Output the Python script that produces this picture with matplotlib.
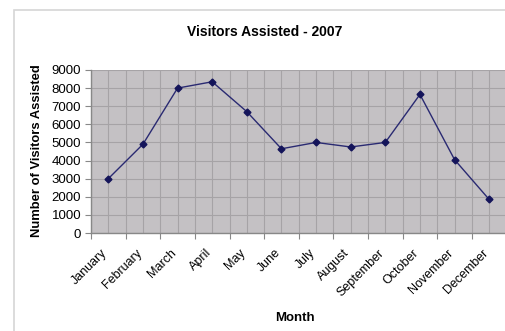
import matplotlib
matplotlib.use("Agg")
import matplotlib.pyplot as plt
import matplotlib.transforms as mtransforms
from matplotlib.patches import Rectangle
import numpy as np

months = ["January", "February", "March", "April", "May", "June", "July",
          "August", "September", "October", "November", "December"]
visitors = [3000, 4900, 8000, 8350, 6700, 4650, 5000, 4750, 5000, 7650, 4050, 1850]
y_ticks = [0, 1000, 2000, 3000, 4000, 5000, 6000, 7000, 8000, 9000]

plt.rcParams['font.family'] = ['Liberation Sans', 'DejaVu Sans']

W, H = 505, 331
fig = plt.figure(figsize=(W / 100, H / 100), dpi=100)
fig.patch.set_facecolor('white')

# outer chart frame (partially cropped)
fig.patches.append(Rectangle((14 / W, -0.1), 1.2, 1 - 10 / H + 0.1, transform=fig.transFigure,
                             fill=False, edgecolor='#d6d6d6', linewidth=1.2))

left, right, top, bottom = 91, 506.5, 70, 233
ax = fig.add_axes([left / W, 1 - bottom / H, (right - left) / W, (bottom - top) / H])
ax.set_facecolor('#c4c1c4')

x = np.arange(len(months))
ax.set_xlim(-0.5, len(months) - 0.5)
ax.set_ylim(0, 9000)

# gridlines
for b in np.arange(-0.5, len(months), 0.5):
    ax.axvline(b, color='#a6a3a6', linewidth=0.8, zorder=1)
for t in y_ticks:
    ax.axhline(t, color='#a6a3a6', linewidth=0.8, zorder=1)

ax.plot(x, visitors, color='#2a2a72', linewidth=1.0, marker='D', markersize=3.5,
        markerfacecolor='#14145a', markeredgecolor='#14145a', zorder=3)

ax.set_yticks(y_ticks)
ax.set_yticklabels([str(t) for t in y_ticks], fontsize=9.5)
ax.set_xticks(np.arange(-0.5, len(months) - 0.5, 1.0))
ax.set_xticklabels([])
ax.set_xticks(x, minor=True)
ax.set_xticklabels(months, minor=True, fontsize=9, rotation=45, ha='right', va='center',
                   rotation_mode='anchor')
ax.tick_params(axis='x', which='minor', length=0, pad=13)
ax.tick_params(axis='x', which='major', length=4, color='#888888', direction='out')
ax.tick_params(axis='y', length=4, color='#888888', pad=3)

shift = mtransforms.ScaledTranslation(-3 / 100, 0, fig.dpi_scale_trans)
for lbl in ax.get_xticklabels(minor=True):
    lbl.set_transform(lbl.get_transform() + shift)

for s in ['top', 'right']:
    ax.spines[s].set_visible(False)
for s in ['left', 'bottom']:
    ax.spines[s].set_color('#888888')
    ax.spines[s].set_linewidth(1.0)

fig.text(265 / W, 1 - 32 / H, "Visitors Assisted - 2007", ha='center', va='center',
         fontsize=10, fontweight='bold')
fig.text(37 / W, 1 - 151 / H, "Number of Visitors Assisted", ha='center', va='center',
         rotation=90, fontsize=9.4, fontweight='bold')
fig.text(295 / W, 1 - 318 / H, "Month", ha='center', va='center',
         fontsize=9.5, fontweight='bold')

fig.savefig("out.png", dpi=100)
